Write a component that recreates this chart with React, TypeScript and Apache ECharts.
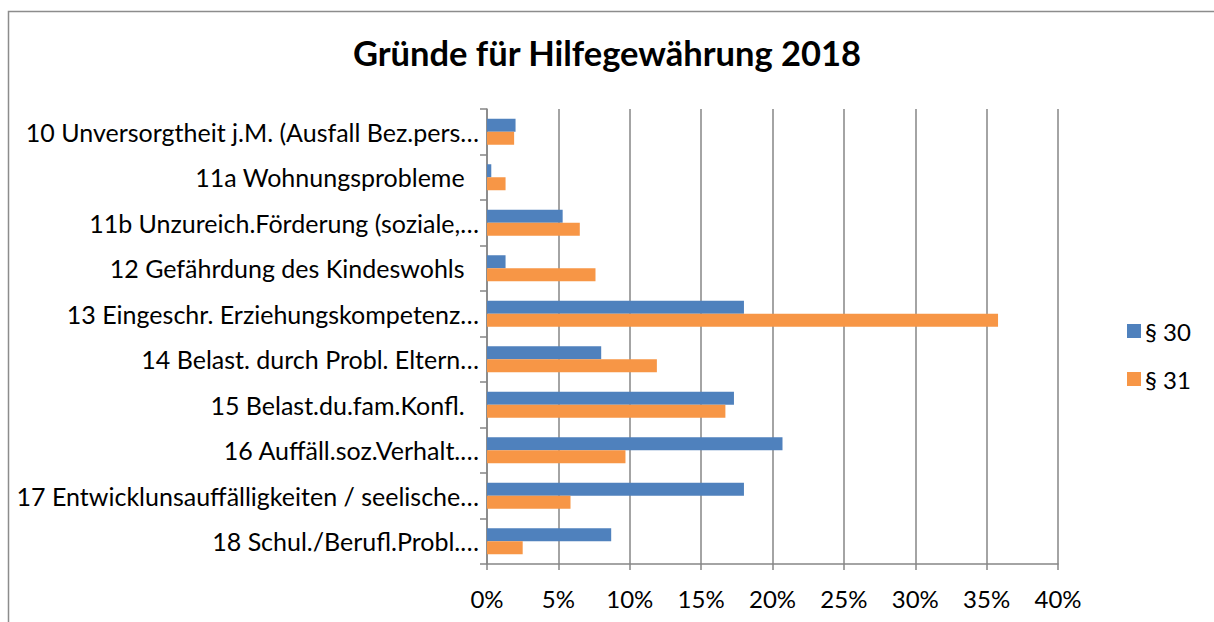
import React, { useEffect, useRef } from "react";
import * as echarts from "echarts";

const categories = [
  "10 Unversorgtheit j.M. (Ausfall Bez.pers…",
  "11a Wohnungsprobleme ",
  "11b Unzureich.Förderung (soziale,…",
  "12 Gefährdung des Kindeswohls ",
  "13 Eingeschr. Erziehungskompetenz…",
  "14 Belast. durch Probl. Eltern…",
  "15 Belast.du.fam.Konfl. ",
  "16 Auffäll.soz.Verhalt.…",
  "17 Entwicklunsauffälligkeiten / seelische…",
  "18 Schul./Berufl.Probl.…",
];

const seriesNames = ["§ 30", "§ 31"];
const values30 = [2.0, 0.3, 5.3, 1.3, 18.0, 8.0, 17.3, 20.7, 18.0, 8.7];
const values31 = [1.9, 1.3, 6.5, 7.6, 35.8, 11.9, 16.7, 9.7, 5.85, 2.5];
const xTicks = [0, 5, 10, 15, 20, 25, 30, 35, 40];

const FONT = "Lato, 'Open Sans', sans-serif";

export default function App() {
  const ref = useRef<HTMLDivElement>(null);
  useEffect(() => {
    if (!ref.current) return;
    const chart = echarts.init(ref.current, undefined, { renderer: "svg" });
    const yData = categories.map((c) =>
      c.endsWith(" ")
        ? { value: c, textStyle: { padding: [0, 8, 0, 0] } }
        : c
    );
    chart.setOption({
      animation: false,
      backgroundColor: "#ffffff",
      title: {
        text: "Gründe für Hilfegewährung 2018",
        left: "center",
        top: 30,
        textStyle: { fontFamily: FONT, fontSize: 34.5, fontWeight: "bold", color: "#000" },
      },
      legend: {
        orient: "vertical",
        left: 1122,
        top: 314,
        itemWidth: 14,
        itemHeight: 14,
        itemGap: 24,
        icon: "rect",
        data: seriesNames,
        textStyle: { fontFamily: FONT, fontSize: 24, color: "#000", padding: [0, 0, 0, -1] },
      },
      grid: { left: 487, right: 156, top: 109, bottom: 58, containLabel: false },
      xAxis: {
        type: "value",
        min: xTicks[0],
        max: xTicks[xTicks.length - 1],
        interval: 5,
        axisLine: { show: true, lineStyle: { color: "#868686", width: 1.5 } },
        axisTick: { show: true, length: 6, lineStyle: { color: "#868686", width: 1.5 } },
        splitLine: { show: true, lineStyle: { color: "#868686", width: 1.5 } },
        axisLabel: {
          formatter: "{value}%",
          fontFamily: FONT,
          fontSize: 24,
          color: "#000",
          margin: 22,
        },
      },
      yAxis: {
        type: "category",
        inverse: true,
        data: yData,
        axisLine: { show: true, lineStyle: { color: "#868686", width: 1.5 } },
        axisTick: { show: true, length: 7, inside: false, lineStyle: { color: "#868686", width: 1.5 } },
        axisLabel: { fontFamily: FONT, fontSize: 25, color: "#000", margin: 8 },
      },
      series: [
        {
          name: seriesNames[0],
          type: "bar",
          data: values30,
          barWidth: 13,
          barGap: "0%",
          itemStyle: { color: "#4F81BD" },
        },
        {
          name: seriesNames[1],
          type: "bar",
          data: values31,
          barWidth: 13,
          barGap: "0%",
          itemStyle: { color: "#F79646" },
        },
      ],
      graphic: [
        {
          type: "rect",
          silent: true,
          shape: { x: 8.5, y: 11.5, width: 1300, height: 1000 },
          style: { fill: "none", stroke: "#8c8c8c", lineWidth: 1.5 },
        },
      ],
    });
    return () => chart.dispose();
  }, []);
  return (
    <div
      ref={ref}
      style={{ position: "absolute", left: 0, top: 0, width: 1214, height: 622 }}
    />
  );
}
